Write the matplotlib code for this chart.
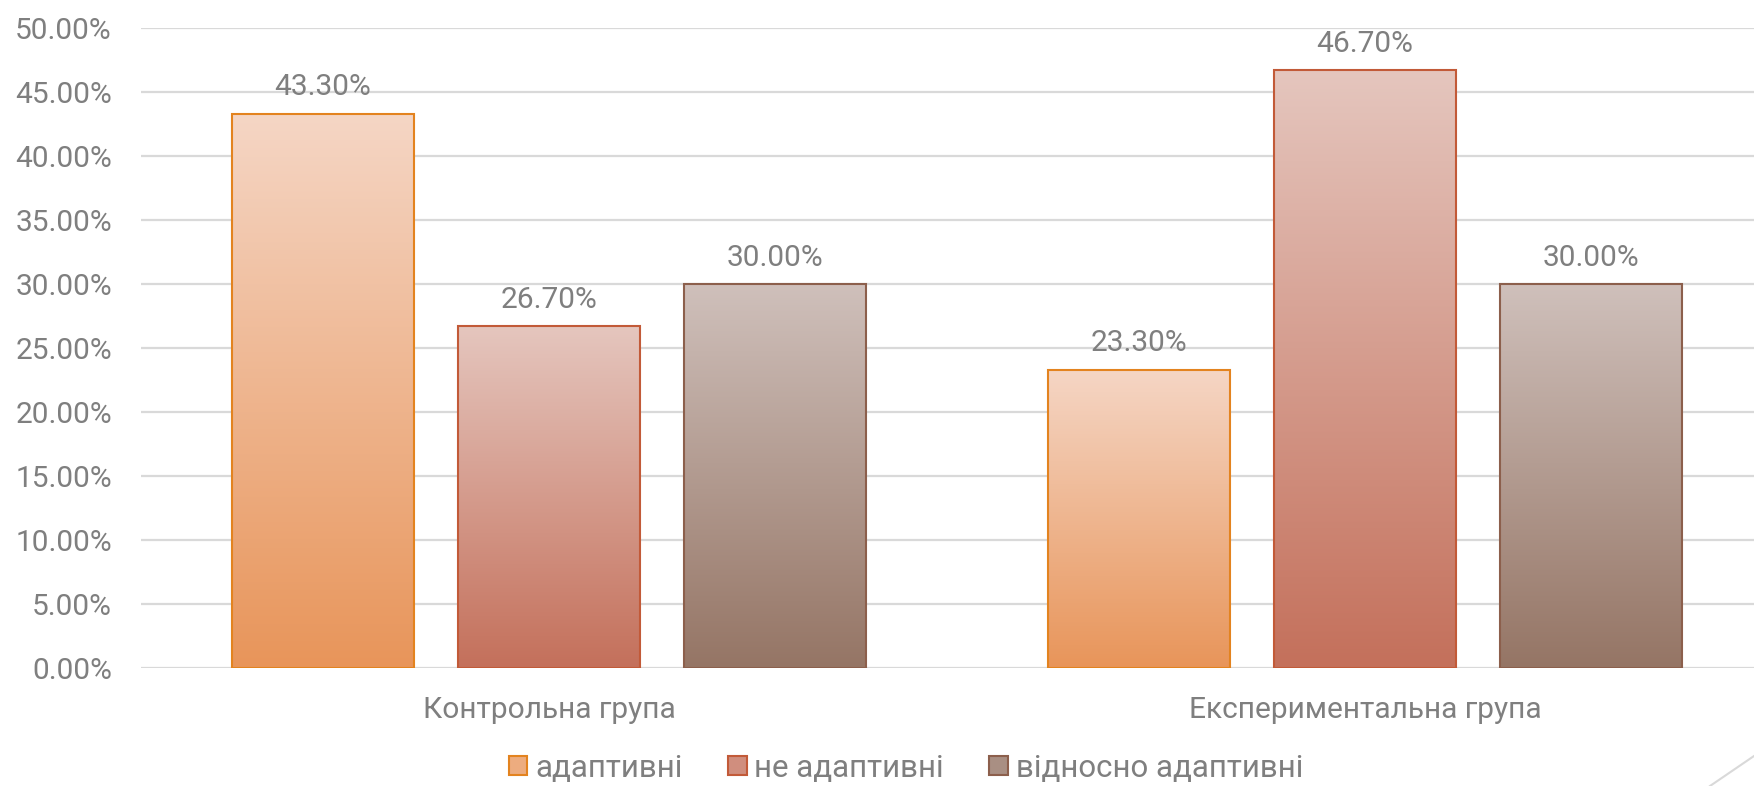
import numpy as np
import matplotlib.pyplot as plt
from matplotlib.patches import Patch
from matplotlib.lines import Line2D
from matplotlib.colors import LinearSegmentedColormap, to_rgb

plt.rcParams['font.family'] = ['Roboto', 'DejaVu Sans']

groups = ['Контрольна група', 'Експериментальна група']
series = ['адаптивні', 'не адаптивні', 'відносно адаптивні']
values = [[43.3, 23.3],   # адаптивні
          [26.7, 46.7],   # не адаптивні
          [30.0, 30.0]]   # відносно адаптивні
yticks = [0, 5, 10, 15, 20, 25, 30, 35, 40, 45, 50]

# (top colour, bottom colour, edge colour)
styles = [('#F5D6C5', '#E8955A', '#E3831F'),
          ('#E5C6BE', '#C4705B', '#C25A38'),
          ('#CFC0BB', '#957565', '#8C5F4C')]
grey = '#7F7F7F'
fs = 21.5

fig = plt.figure(figsize=(17.54, 7.86), dpi=100)
ax = fig.add_axes([141/1754, 1 - 668/786, (1773 - 141)/1754, (668 - 28)/786])

x = np.arange(len(groups))
width = 0.223
step = 0.277
for i, name in enumerate(series):
    top, bottom, edge = styles[i]
    cmap = LinearSegmentedColormap.from_list('g%d' % i, [bottom, top])
    grad = np.linspace(0, 1, 256).reshape(-1, 1)
    for j, v in enumerate(values[i]):
        x0 = x[j] + (i - 1) * step - width / 2
        ax.imshow(grad, cmap=cmap, origin='lower', aspect='auto',
                  extent=[x0, x0 + width, 0, v], zorder=2, interpolation='bilinear')
        ax.bar(x0 + width / 2, v, width, facecolor='none', edgecolor=edge,
               linewidth=1.5, zorder=3)
        ax.annotate('%.2f%%' % v, (x0 + width / 2, v), xytext=(0, 9),
                    textcoords='offset points', ha='center', va='bottom',
                    fontsize=fs, color=grey)

ax.set_xlim(-0.5, 1.5)
ax.set_ylim(0, 50)
ax.set_yticks(yticks)
ax.set_yticklabels(['%.2f%%' % t for t in yticks])
ax.set_xticks(x)
ax.set_xticklabels(groups)
ax.tick_params(axis='y', length=0, pad=21, labelsize=fs, labelcolor=grey)
ax.tick_params(axis='x', length=0, pad=20, labelsize=fs, labelcolor=grey)
ax.grid(axis='y', color='#D9D9D9', linewidth=1.6, zorder=0)
ax.set_axisbelow(True)
for s in ax.spines.values():
    s.set_visible(False)

# legend squares: a colour leaning to the dark end of each gradient
handles = [Patch(facecolor=0.35 * np.array(to_rgb(styles[i][0])) + 0.65 * np.array(to_rgb(styles[i][1])),
                 edgecolor=styles[i][2], linewidth=1.5)
           for i in range(3)]
fig.legend(handles, series, loc='center', bbox_to_anchor=(906/1754, 1 - 768/786),
           ncol=3, frameon=False, fontsize=22.5, labelcolor=grey,
           handlelength=0.6, handleheight=0.6, handletextpad=0.25, columnspacing=1.45)

fig.add_artist(Line2D([1710/1754, 1.0], [0.0, 30/786], color='#D9D9D9', linewidth=1.5))

fig.savefig('out.png', dpi=100)
